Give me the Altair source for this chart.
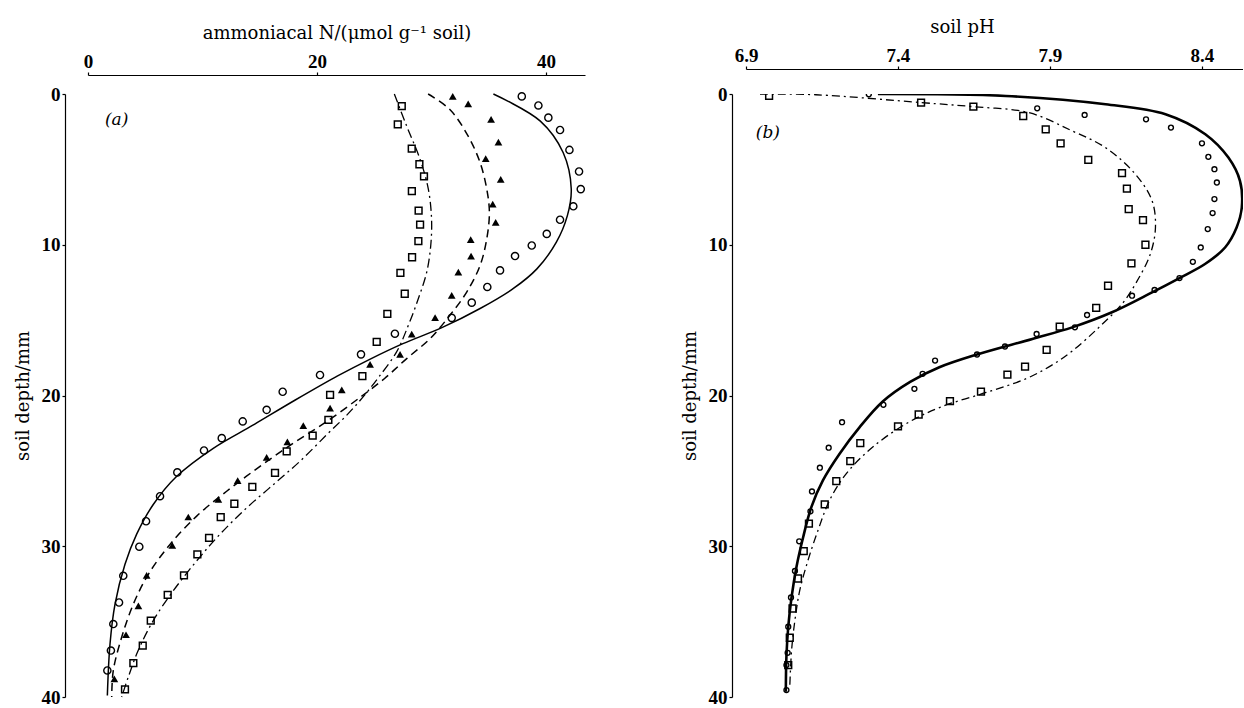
import altair as alt
import pandas as pd

# ---------------- Panel (a): ammoniacal N vs soil depth ----------------
a_circ_depth = [0.16, 0.76, 1.57, 2.39, 3.71, 5.14, 6.31, 7.45, 8.34, 9.28, 10.05, 10.75,
                11.7, 12.8, 13.84, 14.85, 15.9, 17.27, 18.64, 19.75, 20.95, 21.72, 22.83,
                23.65, 25.1, 26.68, 28.34, 30.03, 31.96, 33.73, 35.16, 36.92, 38.24]
a_circ_n = [37.88, 39.33, 40.2, 41.22, 42.04, 42.88, 43.03, 42.38, 41.22, 40.06, 38.75, 37.29,
            35.98, 34.87, 33.51, 31.76, 26.8, 23.84, 20.26, 17.0, 15.6, 13.51, 11.68,
            10.13, 7.8, 6.29, 5.07, 4.48, 3.08, 2.71, 2.21, 2.0, 1.69]

a_tri_depth = [0.16, 0.66, 1.69, 3.19, 4.29, 5.66, 7.3, 8.51, 9.66, 10.75, 11.82, 13.36, 14.83,
               15.93, 17.27, 17.93, 19.63, 20.84, 22.0, 23.08, 24.1, 25.64, 26.89, 28.06,
               29.94, 31.93, 33.95, 35.87, 38.8]
a_tri_n = [31.85, 33.2, 35.2, 35.84, 34.73, 36.04, 35.34, 35.6, 33.42, 33.45, 32.34, 31.76, 30.31,
           28.27, 27.25, 24.63, 22.16, 21.14, 18.8, 17.41, 15.6, 13.07, 11.38, 8.76,
           7.36, 5.12, 4.4, 3.32, 2.3]

a_sq_depth = [0.8, 2.01, 3.62, 4.66, 5.47, 6.44, 7.74, 8.66, 9.76, 10.83, 11.86, 13.25, 14.58,
              16.45, 18.72, 19.96, 21.61, 22.66, 23.71, 25.13, 26.06, 27.18, 28.07, 29.44,
              30.54, 31.93, 33.22, 34.94, 36.59, 37.76, 39.5]
a_sq_n = [27.4, 27.05, 28.27, 28.94, 29.34, 28.28, 28.87, 29.0, 28.85, 28.3, 27.28, 27.66, 26.14,
          25.21, 23.96, 21.14, 20.99, 19.62, 17.35, 16.33, 14.35, 12.78, 11.59, 10.57,
          9.55, 8.38, 6.96, 5.48, 4.78, 3.96, 3.23]

a_solid_depth = [0, 1.8, 3.9, 6.3, 8.07, 9.83, 11.6, 12.9, 14.23, 15.5, 16.56, 17.6, 18.7,
                 20.3, 21.95, 23.5, 25.36, 27.23, 29.2, 31.2, 33.84, 36.5, 39.9]
a_solid_n = [35.4, 39.5, 41.5, 42.2, 41.86, 40.9, 39.2, 37.15, 34.24, 30.9, 27.5, 24.6, 21.8,
             18.1, 14.44, 10.94, 7.75, 5.7, 4.25, 3.23, 2.36, 1.92, 1.69]

a_dash_depth = [0, 1.03, 2.8, 4.55, 6.3, 7.85, 9.61, 11.37, 13.14, 14.68, 16.23, 17.55, 18.87,
                20.1, 21.73, 23.16, 24.7, 26.35, 28.0, 29.88, 31.86, 33.84, 36.04, 38.24, 40]
a_dash_n = [29.7, 31.6, 33.2, 34.24, 34.82, 35.05, 34.82, 34.24, 33.07, 31.6, 29.87, 27.83, 25.9,
            23.8, 20.85, 17.93, 15.02, 12.11, 9.49, 7.16, 5.27, 3.96, 2.94, 2.21, 2.07]

a_dd_depth = [0, 2.13, 4.34, 6.31, 8.29, 10.05, 11.81, 13.57, 15.33, 17.09, 18.87, 20.08, 21.3,
              22.6, 24.37, 25.9, 27.45, 29.2, 30.97, 32.95, 34.93, 36.9, 38.67, 40]
a_dd_n = [26.75, 27.83, 29.0, 29.72, 30.0, 29.93, 29.58, 28.85, 27.98, 26.96, 25.3, 24.04, 22.6,
          20.85, 18.5, 16.2, 13.86, 11.53, 9.49, 7.45, 5.7, 4.39, 3.52, 2.94]

a_ticks = [0, 20, 40]

# ---------------- Panel (b): soil pH vs soil depth ----------------
b_circ_depth = [0.02, 0.95, 1.39, 1.68, 2.23, 3.27, 4.17, 4.99, 5.87, 6.97, 7.9, 8.96, 10.18,
                11.13, 12.21, 13.0, 13.38, 14.66, 15.48, 15.92, 16.75, 17.28, 17.68, 18.56,
                19.56, 20.62, 21.77, 23.46, 24.79, 26.36, 27.68, 29.67, 31.64, 33.4, 35.34,
                37.07, 37.88, 39.54]
b_circ_ph = [7.304, 7.858, 8.014, 8.216, 8.298, 8.4, 8.421, 8.441, 8.449, 8.441, 8.435, 8.419,
             8.396, 8.37, 8.326, 8.244, 8.17, 8.022, 7.982, 7.856, 7.752, 7.66, 7.522, 7.481,
             7.454, 7.352, 7.216, 7.172, 7.143, 7.117, 7.112, 7.075, 7.061, 7.048, 7.039,
             7.037, 7.033, 7.033]

b_sq_depth = [0.13, 0.57, 0.84, 1.46, 2.34, 3.27, 4.37, 5.25, 6.27, 7.64, 8.36, 10.0, 11.24,
              12.72, 14.19, 15.43, 16.97, 18.08, 18.61, 19.74, 20.38, 21.26, 22.05, 23.16,
              24.35, 25.68, 27.22, 28.5, 30.33, 32.14, 34.13, 36.07, 37.88]
b_sq_ph = [6.976, 7.476, 7.648, 7.812, 7.886, 7.935, 8.026, 8.137, 8.153, 8.159, 8.206, 8.214,
           8.168, 8.091, 8.052, 7.932, 7.889, 7.818, 7.76, 7.673, 7.571, 7.468, 7.4, 7.276,
           7.243, 7.197, 7.159, 7.107, 7.09, 7.071, 7.053, 7.044, 7.039]

b_solid_depth = [0, 0.13, 0.68, 1.34, 2.67, 4.22, 5.76, 7.53, 8.85, 10.18, 11.28, 12.21, 13.16,
                 14.48, 15.48, 16.25, 17.28, 18.13, 19.1, 20.4, 22.1, 23.86, 25.63, 27.4, 29.4,
                 31.37, 33.36, 35.34, 37.3, 39.65]
b_solid_ph = [7.334, 7.755, 8.083, 8.28, 8.411, 8.487, 8.525, 8.531, 8.514, 8.476, 8.41, 8.326,
              8.236, 8.104, 7.973, 7.842, 7.66, 7.536, 7.44, 7.35, 7.274, 7.208, 7.153, 7.115,
              7.088, 7.066, 7.05, 7.039, 7.033, 7.031]

b_dd_depth = [0, 0.05, 0.57, 0.84, 1.24, 2.45, 3.56, 5.32, 7.09, 8.85, 10.62, 12.6, 13.93, 15.48,
              17.02, 18.0, 18.9, 19.8, 20.77, 21.87, 23.42, 25.18, 26.95, 28.94, 30.93, 32.91,
              34.9, 36.89, 39.32]
b_dd_ph = [6.946, 7.13, 7.476, 7.648, 7.831, 7.973, 8.083, 8.181, 8.236, 8.247, 8.23, 8.181,
           8.137, 8.061, 7.975, 7.905, 7.82, 7.69, 7.54, 7.427, 7.317, 7.23, 7.175, 7.137,
           7.104, 7.077, 7.061, 7.05, 7.044]

b_ticks = [6.9, 7.4, 7.9, 8.4]
depth_ticks = [0, 10, 20, 30, 40]

PW, PH = 497, 603


def frame(depths, vals):
    return pd.DataFrame({"depth": depths, "v": vals})


def panel(xdomain, xtitle, xticks, xfmt, xoffset, yoffset, lines, points, label, clip,
          title_x=None):
    xs = alt.Scale(domain=xdomain, nice=False, zero=False)
    ys = alt.Scale(domain=[0, 40], reverse=True, nice=False, zero=False)
    xaxis_kw = dict(orient="top", title=xtitle, values=xticks, format=xfmt, offset=xoffset,
                    tickSize=3, labelPadding=1, titlePadding=10)
    if title_x is not None:
        xaxis_kw["titleX"] = title_x
    xaxis = alt.Axis(**xaxis_kw)
    yaxis = alt.Axis(orient="left", title="soil depth/mm", values=depth_ticks, offset=yoffset,
                     tickSize=3, labelPadding=2, titlePadding=9)
    enc = dict(x=alt.X("v:Q", scale=xs, axis=xaxis),
               y=alt.Y("depth:Q", scale=ys, axis=yaxis))
    layers = []
    for df, style in lines:
        layers.append(alt.Chart(df).mark_line(color="black", interpolate="catmull-rom",
                                              clip=clip, **style)
                      .encode(order="depth:Q", **enc))
    for df, style in points:
        layers.append(alt.Chart(df).mark_point(color="black", opacity=1, clip=clip, **style)
                      .encode(**enc))
    ldf = pd.DataFrame({"v": [label[0]], "depth": [label[1]], "t": [label[2]]})
    layers.append(alt.Chart(ldf).mark_text(font="DejaVu Serif", fontStyle="italic", fontSize=17,
                                           color="black")
                  .encode(text="t:N", **enc))
    return alt.layer(*layers).properties(width=PW, height=PH)


circle_a = dict(shape="circle", filled=False, size=52, strokeWidth=1.4)
tri_a = dict(shape="triangle-up", filled=True, size=60, strokeWidth=0)
sq_a = dict(shape="square", filled=False, size=46, strokeWidth=1.5)

chart_a = panel(
    [0, 43.4], "ammoniacal N/(\u03bcmol g\u207b\u00b9 soil)", a_ticks, "d", 19, 23,
    lines=[
        (frame(a_solid_depth, a_solid_n), dict(strokeWidth=1.5)),
        (frame(a_dash_depth, a_dash_n), dict(strokeWidth=1.5, strokeDash=[8, 5])),
        (frame(a_dd_depth, a_dd_n), dict(strokeWidth=1.3, strokeDash=[9, 4, 2, 4])),
    ],
    points=[
        (frame(a_circ_depth, a_circ_n), circle_a),
        (frame(a_tri_depth, a_tri_n), tri_a),
        (frame(a_sq_depth, a_sq_n), sq_a),
    ],
    label=(2.5, 1.7, "(a)"),
    clip=False,
)

circle_b = dict(shape="circle", filled=False, size=24, strokeWidth=1.4)
sq_b = dict(shape="square", filled=False, size=46, strokeWidth=1.5)

chart_b = panel(
    [6.9, 8.535], "soil pH", b_ticks, ".1f", 25, 14,
    lines=[
        (frame(b_solid_depth, b_solid_ph), dict(strokeWidth=2.6)),
        (frame(b_dd_depth, b_dd_ph), dict(strokeWidth=1.3, strokeDash=[8, 4, 2, 4])),
    ],
    points=[
        (frame(b_circ_depth, b_circ_ph), circle_b),
        (frame(b_sq_depth, b_sq_ph), sq_b),
    ],
    label=(6.972, 2.6, "(b)"),
    clip=True,
    title_x=216,
)

chart = (
    alt.hconcat(chart_a, chart_b, spacing=161, bounds="flush")
    .properties(padding={"left": 14, "top": 18, "right": 0, "bottom": 2}, background="white")
    .configure_view(stroke=None)
    .configure_axis(
        grid=False, domainColor="black", domainWidth=1.2, tickColor="black", tickWidth=1.2,
        labelColor="black", titleColor="black", labelFlush=False, labelOverlap=False,
        labelFont="Liberation Serif", labelFontWeight="bold", labelFontSize=19,
        titleFont="DejaVu Serif", titleFontWeight="normal", titleFontSize=18,
    )
)

chart.save("out.html", embed_options={"renderer": "svg", "actions": False})
